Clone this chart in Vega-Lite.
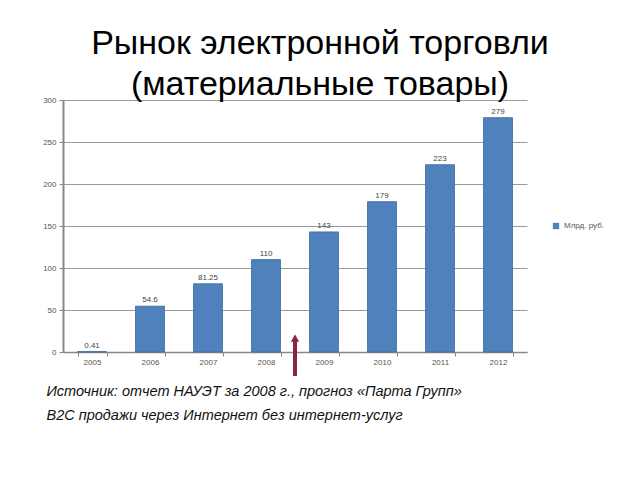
{
  "$schema": "https://vega.github.io/schema/vega-lite/v6.json",
  "width": 464,
  "height": 252,
  "autosize": {"type": "none"},
  "padding": {"left": 63, "top": 100, "right": 113, "bottom": 128},
  "background": "white",
  "title": {
    "text": ["Рынок электронной торговли", "(материальные товары)"],
    "font": "Liberation Sans",
    "fontSize": 34,
    "fontWeight": "normal",
    "color": "#000000",
    "anchor": "middle",
    "frame": "group",
    "dx": 25,
    "dy": 10,
    "offset": 4,
    "lineHeight": 41
  },
  "config": {
    "view": {"stroke": null},
    "axis": {"labelFont": "Liberation Sans", "labelFontSize": 8, "labelColor": "#555555"}
  },
  "datasets": {
    "sales": [
      {"year": "2005", "value": 0.41, "label": "0.41", "series": "Млрд. руб."},
      {"year": "2006", "value": 54.6, "label": "54.6", "series": "Млрд. руб."},
      {"year": "2007", "value": 81.25, "label": "81.25", "series": "Млрд. руб."},
      {"year": "2008", "value": 110, "label": "110", "series": "Млрд. руб."},
      {"year": "2009", "value": 143, "label": "143", "series": "Млрд. руб."},
      {"year": "2010", "value": 179, "label": "179", "series": "Млрд. руб."},
      {"year": "2011", "value": 223, "label": "223", "series": "Млрд. руб."},
      {"year": "2012", "value": 279, "label": "279", "series": "Млрд. руб."}
    ],
    "arrow": [
      {"pos": 4, "bottom": -28.6, "top": 14, "head": 16.5}
    ]
  },
  "layer": [
    {
      "data": {"name": "sales"},
      "mark": {"type": "bar", "stroke": "#3d6a9c", "strokeWidth": 0.8},
      "encoding": {
        "x": {
          "field": "year", "type": "ordinal",
          "scale": {"paddingInner": 0.5, "paddingOuter": 0.25},
          "axis": {
            "labelAngle": 0, "tickBand": "extent", "tickSize": 4, "tickColor": "#888888",
            "domainColor": "#888888", "domainWidth": 1.5, "labelPadding": 2,
            "title": ["Источник: отчет НАУЭТ за 2008 г., прогноз «Парта Групп»", "B2C продажи через Интернет без интернет-услуг"],
            "titleFont": "Liberation Sans", "titleFontSize": 14.5, "titleFontStyle": "italic",
            "titleFontWeight": "normal", "titleColor": "#111111",
            "titleAnchor": "start", "titleAlign": "left", "titleBaseline": "top",
            "titleX": -17, "titleY": 32, "titleLineHeight": 24
          }
        },
        "y": {
          "field": "value", "type": "quantitative",
          "scale": {"domain": [0, 300], "nice": false},
          "axis": {
            "values": [0, 50, 100, 150, 200, 250, 300], "title": null,
            "gridColor": "#9a9a9a", "gridWidth": 1, "domainColor": "#888888", "domainWidth": 2,
            "tickColor": "#888888", "tickSize": 4, "labelPadding": 3
          }
        },
        "color": {
          "field": "series", "type": "nominal",
          "scale": {"range": ["#4F81BD"]},
          "legend": {
            "title": null, "orient": "none", "legendX": 489, "legendY": 122,
            "symbolType": "square", "symbolSize": 40, "symbolStrokeWidth": 0,
            "labelFont": "Liberation Sans", "labelFontSize": 8, "labelColor": "#555555"
          }
        }
      }
    },
    {
      "data": {"name": "sales"},
      "mark": {"type": "text", "dy": -6, "font": "Liberation Sans", "fontSize": 8, "color": "#444444"},
      "encoding": {
        "x": {"field": "year", "type": "ordinal", "scale": {"paddingInner": 0.5, "paddingOuter": 0.25}, "axis": null},
        "y": {"field": "value", "type": "quantitative"},
        "text": {"field": "label"}
      }
    },
    {
      "data": {"name": "arrow"},
      "layer": [
        {
          "mark": {"type": "rule", "color": "#8b2346", "strokeWidth": 4},
          "encoding": {
            "x": {"field": "pos", "type": "quantitative", "scale": {"domain": [0, 8], "nice": false}, "axis": null},
            "y": {"field": "bottom", "type": "quantitative"},
            "y2": {"field": "top"}
          }
        },
        {
          "mark": {"type": "point", "shape": "triangle-up", "filled": true, "color": "#8b2346", "size": 70, "opacity": 1},
          "encoding": {
            "x": {"field": "pos", "type": "quantitative", "scale": {"domain": [0, 8], "nice": false}, "axis": null},
            "y": {"field": "head", "type": "quantitative"}
          }
        }
      ]
    }
  ],
  "resolve": {"scale": {"x": "independent"}}
}
